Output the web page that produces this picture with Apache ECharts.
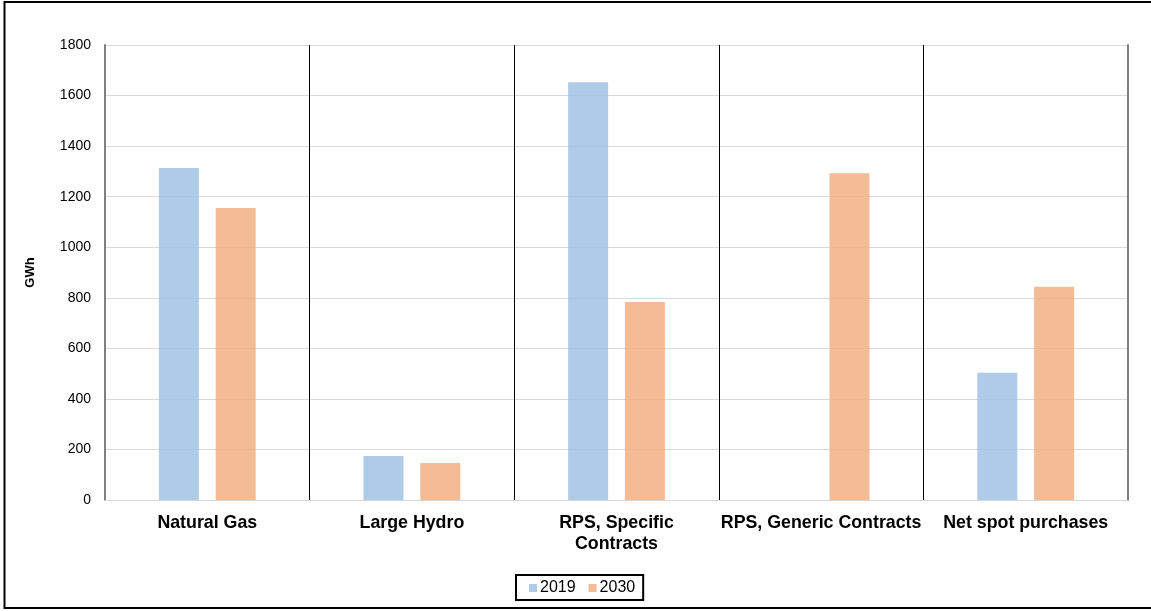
<!DOCTYPE html>
<html>
<head>
<meta charset="utf-8">
<script src="https://cdn.jsdelivr.net/npm/echarts@6/dist/echarts.min.js"></script>
<style>
  html, body { margin: 0; padding: 0; background: #fff; }
  #chart { width: 1151px; height: 611px; }
</style>
</head>
<body>
<div id="chart"></div>
<script>
// Electricity supply by source, GWh
const categories = ['Natural Gas', 'Large Hydro', 'RPS, Specific\nContracts', 'RPS, Generic Contracts', 'Net spot purchases'];
const seriesNames = ['2019', '2030'];
const values2019 = [1313, 174, 1653, null, 503];
const values2030 = [1155, 146, 783, 1293, 844];
const yTicks = { min: 0, max: 1800, interval: 200 };

const font = '"Liberation Sans", Arial, sans-serif';
const chart = echarts.init(document.getElementById('chart'), null, { renderer: 'canvas' });

chart.setOption({
  animation: false,
  textStyle: { fontFamily: font },
  graphic: [{
    type: 'rect',
    shape: { x: 4.5, y: 2, width: 1160, height: 606 },
    style: { fill: 'none', stroke: '#000', lineWidth: 2 },
    z: 100
  }],
  grid: { left: 105, right: 23, top: 45, bottom: 111 },
  legend: {
    data: seriesNames,
    bottom: 11,
    left: 516,
    icon: 'rect',
    itemWidth: 8,
    itemHeight: 8,
    itemGap: 13,
    padding: [5, 8, 4, 13],
    borderColor: '#000',
    borderWidth: 2,
    textStyle: { fontFamily: font, fontSize: 16, color: '#000', padding: [0, 0, 0, -2] }
  },
  xAxis: [{
    type: 'category',
    data: categories,
    axisLine: { show: true, lineStyle: { color: '#d9d9d9', width: 1 } },
    axisTick: { show: false },
    splitLine: { show: true, interval: 0, lineStyle: { color: '#000', width: 1 } },
    axisLabel: {
      interval: 0,
      margin: 13,
      fontFamily: font,
      fontSize: 17.8,
      fontWeight: 'bold',
      color: '#000',
      lineHeight: 21
    }
  }],
  yAxis: [{
    type: 'value',
    min: yTicks.min,
    max: yTicks.max,
    interval: yTicks.interval,
    name: 'GWh',
    nameLocation: 'middle',
    nameGap: 68,
    nameRotate: 90,
    nameTextStyle: { fontFamily: font, fontSize: 13, fontWeight: 'bold', color: '#000' },
    axisLine: { show: true, lineStyle: { color: '#808080', width: 2 } },
    axisTick: { show: false },
    splitLine: { show: true, lineStyle: { color: '#d9d9d9', width: 1 } },
    axisLabel: { fontFamily: font, fontSize: 14, color: '#000', margin: 14, formatter: v => String(v) }
  }, {
    type: 'value',
    position: 'right',
    min: yTicks.min,
    max: yTicks.max,
    interval: yTicks.interval,
    axisLine: { show: true, lineStyle: { color: '#808080', width: 2 } },
    axisTick: { show: false },
    axisLabel: { show: false },
    splitLine: { show: false }
  }],
  series: [{
    name: seriesNames[0],
    type: 'bar',
    data: values2019,
    barWidth: 40,
    barGap: '42%',
    itemStyle: { color: 'rgba(160,194,228,0.85)' },
    z: 5
  }, {
    name: seriesNames[1],
    type: 'bar',
    data: values2030,
    barWidth: 40,
    itemStyle: { color: 'rgba(242,176,131,0.85)' },
    z: 5
  }]
});
</script>
</body>
</html>
